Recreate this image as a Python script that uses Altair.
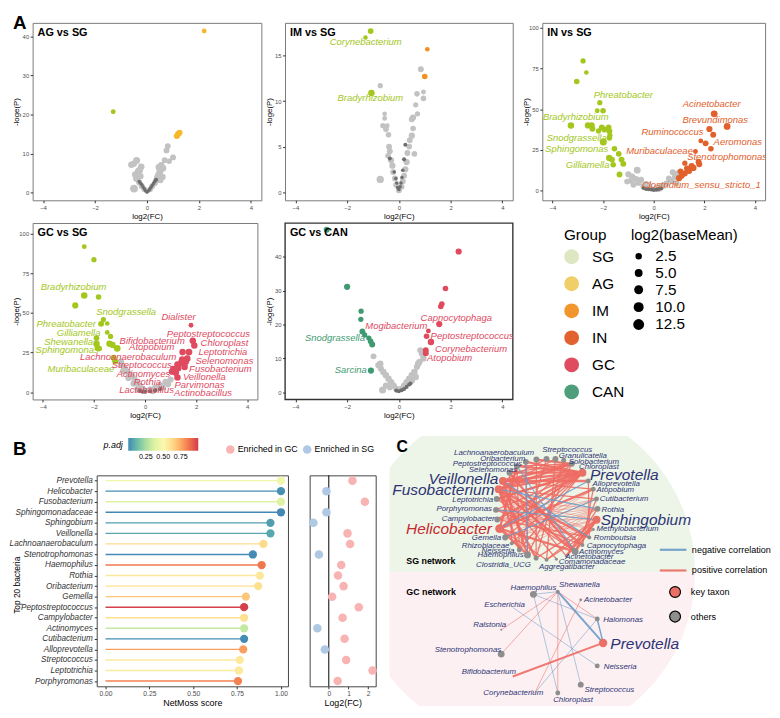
import altair as alt
import pandas as pd

FONT = "Liberation Sans"

# ---------------- Panel A : volcano plots ----------------
GROUPS = ["SG", "AG", "IM", "IN", "GC", "CAN"]
POINT_COLORS = ["#a3c71c", "#f6b82c", "#f39020", "#e1602b", "#e04a5f", "#3f9a72"]
LEGEND_COLORS = ["#dde7c1", "#f1cf68", "#f3952f", "#e2622f", "#df4c60", "#4e9e7b"]
NS_COLORS = ["#c2c2c2", "#6e6e6e"]
SIZE_LEGEND_VALUES = [2.5, 5.0, 7.5, 10.0, 12.5]

# (log2FC, -loge(P), log2(baseMean), group)
AG_POINTS = [
    (0.80, 11.9, 1.5, "ns"), (0.75, 10.8, 1.5, "ns"), (1.00, 9.0, 1.5, "ns"), (0.68, 8.3, 1.5, "ns"),
    (0.85, 8.0, 1.0, "ns"), (0.55, 7.0, 2.5, "ns"), (0.62, 6.2, 2.5, "ns"), (0.50, 5.5, 3.5, "ns"),
    (0.45, 4.6, 3.0, "ns"), (0.60, 4.0, 2.0, "ns"), (0.40, 3.8, 3.0, "ns"), (0.35, 3.0, 2.0, "ns"),
    (0.30, 2.4, 1.5, "ns"), (0.20, 1.6, 1.5, "ns"), (0.12, 0.8, 1.0, "ns"), (-0.10, 0.8, 1.0, "ns"),
    (-0.20, 1.6, 1.5, "ns"), (-0.30, 2.6, 2.0, "ns"), (-0.40, 3.6, 3.5, "ns"), (-0.45, 4.6, 3.0, "ns"),
    (-0.35, 5.4, 2.0, "ns"), (-0.40, 8.2, 3.5, "ns"), (-0.22, 6.6, 2.5, "ns"), (-0.60, 7.1, 2.5, "ns"),
    (-0.50, 7.4, 2.0, "ns"), (-0.29, 5.7, 3.5, "ns"), (-0.50, 1.0, 5.0, "ns"), (0.45, 6.5, 2.0, "ns"),
    (0.52, 3.2, 2.0, "ns"), (-0.25, 4.2, 2.0, "ns"),
    (0.00, 0.1, -1.5, "nsd"), (0.05, 0.4, -1.5, "nsd"), (-0.05, 0.4, -1.5, "nsd"), (0.10, 0.8, -1.5, "nsd"),
    (-0.10, 0.9, -1.5, "nsd"), (0.15, 1.3, -1.5, "nsd"), (-0.15, 1.4, -1.5, "nsd"), (0.20, 1.8, -1.5, "nsd"),
    (-0.20, 2.0, -1.5, "nsd"), (0.25, 2.3, -1.5, "nsd"), (-0.25, 2.4, -1.5, "nsd"), (0.30, 2.8, -1.5, "nsd"),
    (0.35, 3.3, -1.0, "nsd"), (-0.30, 2.8, -1.5, "nsd"),
    (2.20, 41.4, 0.0, "AG"), (1.15, 14.5, 1.8, "AG"), (1.20, 15.0, 1.8, "AG"), (1.25, 15.3, 1.8, "AG"),
    (-1.30, 20.7, 0.0, "SG"),
]
AG_LABELS = []

IM_POINTS = [
    (0.85, 13.5, 1.5, "ns"), (0.95, 11.0, 0.0, "ns"), (0.95, 10.3, 1.0, "ns"), (0.70, 10.8, 1.0, "ns"),
    (-0.72, 11.7, 0.5, "ns"), (0.65, 9.6, 0.5, "ns"), (0.55, 8.2, 2.0, "ns"), (0.72, 8.6, 0.5, "ns"),
    (0.50, 8.0, 1.5, "ns"), (-0.55, 8.6, -0.3, "ns"), (-0.55, 8.1, 0.0, "ns"), (-0.62, 7.3, 0.5, "ns"),
    (-0.45, 7.3, 0.0, "ns"), (-0.50, 6.9, 1.0, "ns"), (-0.40, 6.3, 1.0, "ns"), (0.50, 6.2, 2.0, "ns"),
    (0.55, 7.0, 1.0, "ns"), (0.42, 5.7, 1.5, "ns"), (0.40, 5.0, 1.0, "ns"), (-0.38, 5.0, 1.5, "ns"),
    (-0.35, 4.5, 1.5, "ns"), (0.33, 4.3, 1.5, "ns"), (-0.30, 3.5, 2.0, "ns"), (0.30, 3.3, 2.0, "ns"),
    (-0.25, 2.9, 2.0, "ns"), (0.25, 2.5, 2.0, "ns"), (-0.22, 2.2, 1.5, "ns"), (0.20, 1.8, 1.5, "ns"),
    (-0.15, 1.5, 1.5, "ns"), (0.15, 1.2, 1.5, "ns"), (-0.10, 0.8, 1.5, "ns"), (0.10, 0.6, 1.5, "ns"),
    (0.00, 0.2, 1.5, "ns"), (-0.72, 1.4, 4.0, "ns"), (0.60, 4.2, 1.0, "ns"), (-0.42, 4.0, 1.0, "ns"),
    (0.25, 5.2, -1.0, "nsd"), (-0.35, 3.7, -1.0, "nsd"), (0.20, 3.6, -1.0, "nsd"), (0.15, 2.4, -1.5, "nsd"),
    (-0.12, 1.5, -1.5, "nsd"), (0.00, 0.3, -1.5, "nsd"), (0.05, 0.6, -1.5, "nsd"), (-0.05, 0.5, -1.5, "nsd"),
    (0.08, 1.0, -1.5, "nsd"), (-0.08, 1.0, -1.5, "nsd"), (0.12, 1.6, -1.5, "nsd"), (-0.18, 2.2, -1.5, "nsd"),
    (-1.09, 17.7, 1.2, "SG"), (-1.29, 17.0, -0.5, "SG"), (-1.06, 10.9, 2.5, "SG"),
    (1.10, 15.7, -0.3, "IM"), (1.00, 12.7, 1.0, "IM"),
]
IM_LABELS = [("Corynebacterium", -1.28, 16.5, "SG"), ("Bradyrhizobium", -1.10, 10.35, "SG")]

IN_POINTS = [
    (-0.65, 12.5, 3.0, "ns"), (-1.00, 10.0, 2.0, "ns"), (-0.85, 8.5, 2.0, "ns"), (-0.70, 7.0, 2.0, "ns"),
    (-0.50, 6.5, 2.0, "ns"), (-0.30, 4.0, 1.5, "ns"), (-0.90, 6.0, 1.5, "ns"), (-1.05, 5.5, 1.5, "ns"),
    (-0.60, 4.8, 2.0, "ns"), (-0.40, 2.5, 2.0, "ns"), (-0.15, 1.5, 1.5, "ns"), (0.10, 1.8, 1.5, "ns"),
    (0.30, 2.8, 2.0, "ns"), (0.50, 4.2, 2.0, "ns"), (0.70, 6.0, 2.0, "ns"), (0.85, 8.5, 2.5, "ns"),
    (0.95, 10.5, 2.0, "ns"), (0.75, 11.2, 1.5, "ns"), (0.60, 7.5, 1.5, "ns"), (0.90, 4.5, 1.5, "ns"),
    (0.40, 3.0, 1.5, "ns"), (-0.20, 3.5, 1.5, "ns"), (0.20, 1.0, 1.5, "ns"), (-0.80, 3.5, 1.5, "ns"),
    (-0.30, 1.0, -1.0, "nsd"), (-0.10, 0.6, -1.0, "nsd"), (0.00, 0.3, -1.0, "nsd"), (0.10, 0.5, -1.0, "nsd"),
    (0.20, 0.9, -1.0, "nsd"), (-0.20, 0.8, -1.0, "nsd"), (0.30, 1.2, -1.0, "nsd"), (-0.40, 1.5, -1.0, "nsd"),
    (-2.79, 79.6, 0.5, "SG"), (-2.66, 72.5, -0.3, "SG"), (-3.04, 67.0, 1.0, "SG"), (-2.13, 54.0, 0.5, "SG"),
    (-2.23, 49.0, 0.0, "SG"), (-2.00, 49.0, 1.0, "SG"), (-3.27, 40.0, 2.5, "SG"), (-2.60, 40.0, 2.0, "SG"),
    (-2.45, 40.0, 2.0, "SG"), (-2.42, 38.0, 1.5, "SG"), (-2.05, 38.8, 1.5, "SG"), (-1.95, 37.5, 1.5, "SG"),
    (-1.78, 38.8, 1.0, "SG"), (-2.18, 36.6, 0.5, "SG"), (-1.75, 36.4, 1.5, "SG"), (-1.73, 33.9, 0.5, "SG"),
    (-1.75, 32.3, 1.0, "SG"), (-1.99, 29.8, 3.5, "SG"), (-1.55, 25.7, 1.0, "SG"), (-1.38, 22.5, 1.0, "SG"),
    (-1.76, 20.0, 2.0, "SG"), (-1.65, 19.0, 1.5, "SG"), (-1.27, 19.0, 1.5, "SG"), (-1.20, 16.4, 1.5, "SG"),
    (-1.60, 15.8, 1.0, "SG"), (-1.35, 9.9, 1.5, "SG"),
    (2.39, 47.1, 3.0, "IN"), (2.90, 39.4, 3.0, "IN"), (2.20, 37.8, 2.0, "IN"), (2.35, 34.3, 1.5, "IN"),
    (1.86, 30.5, 0.0, "IN"), (2.05, 29.0, 1.5, "IN"), (2.26, 25.7, 1.0, "IN"), (1.65, 24.0, 0.0, "IN"),
    (1.23, 16.8, 0.5, "IN"), (1.77, 17.7, 1.5, "IN"), (1.50, 15.0, 2.0, "IN"), (1.31, 13.5, 1.5, "IN"),
    (1.57, 13.9, 2.0, "IN"), (1.06, 11.8, 1.5, "IN"), (1.12, 9.8, 2.0, "IN"), (1.00, 7.6, 2.0, "IN"),
    (1.23, 10.5, 1.5, "IN"), (1.40, 12.0, 1.5, "IN"), (1.80, 16.2, 1.5, "IN"), (1.10, 8.8, 1.0, "IN"),
]
IN_LABELS = [
    ("Phreatobacter", -1.20, 58.4, "SG"), ("Bradyrhizobium", -3.08, 45.0, "SG"),
    ("Snodgrassella", -3.04, 32.5, "SG"), ("Sphingomonas", -3.04, 25.4, "SG"),
    ("Gilliamella", -2.61, 15.8, "SG"), ("Acinetobacter", 2.29, 53.1, "IN"),
    ("Brevundimonas", 2.43, 43.4, "IN"), ("Ruminococcus", 0.74, 35.8, "IN"),
    ("Aeromonas", 3.32, 29.7, "IN"), ("Muribaculaceae", 0.23, 24.4, "IN"),
    ("Stenotrophomonas", 2.90, 20.4, "IN"), ("Clostridium_sensu_stricto_1", 1.88, 3.2, "IN"),
]

GCSG_POINTS = [
    (-0.95, 19.0, 3.0, "ns"), (-0.90, 17.0, 2.5, "ns"), (-0.80, 15.0, 2.5, "ns"), (-0.70, 13.0, 2.0, "ns"),
    (-0.60, 11.5, 2.5, "ns"), (-0.50, 10.0, 2.0, "ns"), (-0.40, 8.0, 2.0, "ns"), (-0.30, 6.0, 2.0, "ns"),
    (-0.20, 4.0, 2.0, "ns"), (-0.10, 2.0, 2.0, "ns"), (0.00, 1.0, 2.0, "ns"), (0.20, 1.8, 2.0, "ns"),
    (0.40, 3.0, 2.0, "ns"), (0.60, 4.5, 2.0, "ns"), (0.80, 6.5, 2.0, "ns"), (1.00, 8.0, 2.0, "ns"),
    (-0.85, 13.5, 2.0, "ns"), (-0.65, 9.0, 2.0, "ns"), (0.50, 2.5, 2.0, "ns"), (0.90, 5.0, 2.0, "ns"),
    (-0.45, 5.5, 2.0, "ns"), (0.30, 0.8, 2.0, "ns"), (0.70, 3.0, 1.5, "ns"), (-0.30, 2.0, 2.0, "ns"),
    (0.00, 0.3, -1.0, "nsd"), (0.20, 0.6, -1.0, "nsd"), (0.40, 1.2, -1.0, "nsd"), (-0.10, 0.4, -1.0, "nsd"),
    (0.60, 2.0, -1.0, "nsd"), (-0.20, 0.8, -1.0, "nsd"),
    (-2.38, 91.7, 0.0, "SG"), (-2.00, 83.5, 0.5, "SG"), (-2.38, 60.9, 2.5, "SG"), (-1.82, 60.0, 1.0, "SG"),
    (-2.73, 54.7, 2.0, "SG"), (-1.63, 45.8, 0.5, "SG"), (-1.72, 43.1, 1.5, "SG"), (-1.48, 43.3, -0.3, "SG"),
    (-1.48, 37.7, 0.0, "SG"), (-1.35, 35.2, 0.5, "SG"), (-1.90, 34.1, 1.0, "SG"), (-1.90, 30.6, 2.5, "SG"),
    (-1.86, 28.1, 1.5, "SG"), (-1.79, 27.5, 1.0, "SG"), (-1.39, 30.6, 2.5, "SG"), (-1.27, 29.8, 2.0, "SG"),
    (-1.09, 27.7, 3.0, "SG"), (-1.23, 21.7, 2.0, "SG"), (-1.17, 19.6, 1.5, "SG"),
    (1.80, 42.2, 0.0, "GC"), (1.87, 32.5, 2.5, "GC"), (1.93, 29.4, 2.5, "GC"), (1.47, 25.3, 2.5, "GC"),
    (1.72, 25.3, 3.0, "GC"), (1.65, 21.2, 3.0, "GC"), (1.45, 20.8, 2.0, "GC"), (1.27, 17.5, 2.5, "GC"),
    (1.11, 14.6, 2.5, "GC"), (1.20, 12.5, 3.0, "GC"), (1.30, 15.2, 2.5, "GC"), (1.55, 16.0, 2.5, "GC"),
    (1.27, 9.3, 2.5, "GC"), (1.05, 13.0, 2.0, "GC"), (1.40, 18.5, 2.0, "GC"), (1.60, 19.0, 2.0, "GC"),
]
GCSG_LABELS = [
    ("Bradyrhizobium", -2.80, 66.3, "SG"), ("Snodgrassella", -0.74, 50.3, "SG"),
    ("Phreatobacter", -3.09, 42.9, "SG"), ("Gilliamella", -2.60, 37.3, "SG"),
    ("Shewanella", -2.99, 31.7, "SG"), ("Sphingomonas", -3.05, 26.7, "SG"),
    ("Muribaculaceae", -2.51, 14.5, "SG"), ("Dialister", 1.31, 47.4, "GC"),
    ("Peptostreptococcus", 2.48, 36.7, "GC"), ("Bifidobacterium", 0.28, 32.5, "GC"),
    ("Chloroplast", 3.11, 31.3, "GC"), ("Atopobium", 0.26, 28.4, "GC"),
    ("Leptotrichia", 3.05, 25.5, "GC"), ("Lachnoanaerobaculum", -0.66, 22.2, "GC"),
    ("Selenomonas", 3.11, 19.5, "GC"), ("Streptococcus", -0.13, 17.0, "GC"),
    ("Fusobacterium", 2.95, 14.5, "GC"), ("Actinomyces", -0.06, 11.4, "GC"),
    ("Veillonella", 2.32, 9.7, "GC"), ("Rothia", 0.09, 6.6, "GC"),
    ("Parvimonas", 2.13, 4.8, "GC"), ("Lactobacillus", 0.06, 1.7, "GC"),
    ("Actinobacillus", 2.27, -0.6, "GC"),
]

GCCAN_POINTS = [
    (-0.98, 10.6, 1.5, "ns"), (-0.72, 8.4, 2.5, "ns"), (-0.80, 8.0, 1.5, "ns"), (-0.70, 7.0, 2.0, "ns"),
    (-0.60, 6.0, 2.5, "ns"), (-0.50, 5.0, 2.5, "ns"), (-0.40, 4.0, 2.5, "ns"), (-0.30, 3.0, 2.5, "ns"),
    (-0.20, 2.0, 2.0, "ns"), (-0.10, 1.0, 2.0, "ns"), (0.10, 1.0, 2.0, "ns"), (0.20, 2.0, 2.0, "ns"),
    (0.30, 3.0, 2.5, "ns"), (0.40, 4.0, 2.5, "ns"), (0.50, 5.0, 2.5, "ns"), (0.60, 6.0, 2.5, "ns"),
    (0.70, 7.5, 2.0, "ns"), (0.80, 9.0, 2.0, "ns"), (0.83, 12.4, 2.0, "ns"), (0.89, 11.4, 2.0, "ns"),
    (0.95, 10.0, 2.0, "ns"), (0.75, 8.5, 2.5, "ns"), (-0.63, 0.7, 3.5, "ns"), (0.50, 3.5, 2.5, "ns"),
    (-0.50, 2.0, 2.0, "ns"), (0.65, 4.5, 2.5, "ns"), (-0.35, 1.5, 2.0, "ns"),
    (0.00, 0.3, -1.0, "nsd"), (0.10, 0.6, -1.0, "nsd"), (-0.10, 0.5, -1.0, "nsd"), (0.20, 1.0, -1.0, "nsd"),
    (0.30, 1.6, -1.0, "nsd"), (0.40, 2.3, -1.0, "nsd"), (0.45, 2.6, -1.0, "nsd"),
    (-2.79, 47.9, 1.5, "CAN"), (-2.00, 31.1, 2.0, "CAN"), (-1.46, 23.9, 0.5, "CAN"), (-1.47, 21.5, 0.5, "CAN"),
    (-1.41, 17.9, 1.5, "CAN"), (-1.32, 16.9, 0.5, "CAN"), (-1.16, 16.0, 0.5, "CAN"), (-1.09, 15.0, 1.0, "CAN"),
    (-1.03, 14.1, 1.5, "CAN"), (-1.08, 6.4, 2.0, "CAN"),
    (2.31, 41.5, 2.0, "GC"), (1.80, 30.6, 1.0, "GC"), (1.66, 26.0, 1.0, "GC"), (1.62, 25.3, 1.0, "GC"),
    (1.56, 20.1, 2.0, "GC"), (1.14, 18.1, 0.0, "GC"), (1.07, 16.5, 1.0, "GC"), (1.24, 14.8, 2.5, "GC"),
    (1.04, 12.4, 1.5, "GC"), (1.04, 11.5, 1.5, "GC"),
]
GCCAN_LABELS = [
    ("Capnocytophaga", 2.22, 22.0, "GC"), ("Mogibacterium", -0.10, 19.5, "GC"),
    ("Peptostreptococcus", 2.83, 16.6, "GC"), ("Snodgrassella", -2.47, 16.1, "CAN"),
    ("Corynebacterium", 2.79, 12.8, "GC"), ("Atopobium", 1.96, 10.1, "GC"),
    ("Sarcina", -1.86, 6.5, "CAN"),
]

# ---------------- Panel B : NetMoss lollipop ----------------
TAXA = ["Prevotella", "Helicobacter", "Fusobacterium", "Sphingomonadaceae", "Sphingobium",
        "Veillonella", "Lachnoanaerobaculum", "Stenotrophomonas", "Haemophilus", "Rothia",
        "Oribacterium", "Gemella", "Peptostreptococcus", "Campylobacter", "Actinomyces",
        "Cutibacterium", "Alloprevotella", "Streptococcus", "Leptotrichia", "Porphyromonas"]
NETMOSS = [1.00, 1.00, 1.00, 1.00, 0.94, 0.94, 0.90, 0.84, 0.89, 0.88,
           0.87, 0.80, 0.79, 0.79, 0.79, 0.79, 0.785, 0.765, 0.76, 0.755]
PADJ = [0.45, 0.02, 0.37, 0.00, 0.05, 0.07, 0.63, 0.01, 0.86, 0.58,
        0.61, 0.68, 0.99, 0.61, 0.31, 0.01, 0.78, 0.57, 0.57, 0.84]
LFC = [1.20, -0.12, 1.83, -0.12, -0.78, 0.95, 1.08, -0.50, 0.63, 0.47,
       0.75, 0.17, 1.52, 0.70, -0.58, 0.80, -0.20, 0.88, 2.22, 0.45]
ENRICHED = ["GC", "SG", "GC", "SG", "SG", "GC", "GC", "SG", "GC", "GC",
            "GC", "GC", "GC", "GC", "SG", "GC", "SG", "GC", "GC", "GC"]
PADJ_LEGEND_VALUES = [0.25, 0.5, 0.75]

# ---------------- Panel C : networks ----------------
SG_NODES = ["Prevotella", "Alloprevotella", "Atopobium", "Cutibacterium", "Rothia", "Sphingobium",
            "Methylobacterium", "Romboutsia", "Capnocytophaga", "Actinomyces", "Acinetobacter",
            "Comamonadaceae", "Aggregatibacter", "Clostridia_UCG", "Haemophilus", "Neisseria",
            "Rhizobiaceae", "Gemella", "Helicobacter", "Campylobacter", "Porphyromonas",
            "Leptotrichia", "Fusobacterium", "Veillonella", "Selenomonas", "Peptostreptococcus",
            "Oribacterium", "Lachnoanaerobaculum", "Streptococcus", "Granulicatella",
            "Solobacterium", "Chloroplast"]
SG_X = [585.7, 591.7, 596.7, 600.0, 601.0, 600.0, 596.7, 592.7, 585.7, 578.3, 569.3, 559.3,
        549.3, 538.7, 530.0, 521.7, 514.0, 507.3, 501.7, 499.3, 498.0, 498.7, 500.7, 505.0,
        511.7, 519.3, 528.3, 539.0, 549.3, 558.3, 566.7, 575.0]
SG_Y = [473.3, 481.7, 490.0, 500.0, 510.0, 521.0, 531.0, 539.0, 546.7, 553.3, 557.7, 561.0,
        561.7, 560.0, 556.7, 551.7, 545.0, 539.0, 530.0, 520.7, 511.0, 500.0, 490.0, 481.7,
        473.3, 466.7, 462.3, 460.0, 459.3, 459.3, 460.7, 464.3]
SG_DIAM = [8, 5, 5, 5, 6, 8, 3, 4, 4, 7, 3, 3, 4, 5, 7, 5, 4, 6, 9, 6, 6, 6, 8, 8,
           6, 6, 6, 6, 6, 6, 5, 6]
SG_KEY = ["Prevotella", "Sphingobium", "Helicobacter", "Fusobacterium", "Veillonella"]
SG_EDGES = [
    (23, 0, 2.4, "pos"), (22, 0, 2.4, "pos"), (18, 14, 2.4, "pos"), (22, 9, 2.4, "pos"),
    (23, 8, 2.4, "pos"), (5, 9, 2.4, "pos"), (22, 31, 2.4, "pos"), (23, 31, 2.4, "pos"),
    (18, 25, 2.4, "pos"), (22, 15, 2.4, "pos"), (18, 9, 2.4, "pos"), (23, 1, 2.4, "pos"),
    (25, 0, 2.4, "pos"), (24, 0, 2.4, "pos"), (22, 7, 2.4, "pos"), (5, 10, 2.4, "pos"),
    (0, 21, 2.4, "pos"), (0, 19, 2.4, "pos"), (23, 14, 2.4, "pos"), (22, 13, 2.4, "pos"),
    (26, 0, 2.4, "pos"), (27, 31, 2.4, "pos"), (18, 2, 2.4, "pos"), (24, 9, 2.4, "pos"),
    (18, 0, 2.4, "pos"),
    (21, 0, 1.3, "pos"), (20, 0, 1.3, "pos"), (25, 31, 1.3, "pos"), (24, 31, 1.3, "pos"),
    (22, 29, 1.3, "pos"), (23, 28, 1.3, "pos"), (22, 11, 1.3, "pos"), (23, 10, 1.3, "pos"),
    (18, 12, 1.3, "pos"), (26, 14, 1.3, "pos"), (27, 13, 1.3, "pos"), (25, 15, 1.3, "pos"),
    (24, 16, 1.3, "pos"), (21, 9, 1.3, "pos"), (20, 8, 1.3, "pos"), (19, 7, 1.3, "pos"),
    (5, 12, 1.3, "pos"), (5, 13, 1.3, "pos"), (6, 12, 1.3, "pos"), (4, 10, 1.3, "pos"),
    (3, 9, 1.3, "pos"), (2, 8, 1.3, "pos"), (1, 7, 1.3, "pos"), (0, 15, 1.3, "pos"),
    (0, 16, 1.3, "pos"), (31, 14, 1.3, "pos"), (30, 13, 1.3, "pos"), (29, 12, 1.3, "pos"),
    (28, 15, 1.3, "pos"), (22, 3, 1.3, "pos"), (23, 2, 1.3, "pos"), (18, 31, 1.3, "pos"),
    (17, 0, 1.3, "pos"),
    (5, 20, 0.5, "pos"), (5, 21, 0.5, "pos"), (5, 19, 0.5, "pos"), (5, 17, 0.5, "pos"),
    (5, 16, 0.5, "pos"), (4, 20, 0.5, "pos"), (4, 21, 0.5, "pos"), (4, 19, 0.5, "pos"),
    (4, 18, 0.5, "pos"), (4, 17, 0.5, "pos"), (4, 16, 0.5, "pos"), (4, 15, 0.5, "pos"),
    (4, 14, 0.5, "pos"), (6, 20, 0.5, "pos"), (6, 21, 0.5, "pos"), (7, 21, 0.5, "pos"),
    (7, 20, 0.5, "pos"), (3, 19, 0.5, "pos"), (3, 18, 0.5, "pos"), (3, 17, 0.5, "pos"),
    (2, 17, 0.5, "pos"), (2, 16, 0.5, "pos"), (8, 22, 0.5, "pos"), (9, 23, 0.5, "pos"),
    (22, 4, 1.1, "neg"), (23, 7, 1.1, "neg"), (18, 1, 1.1, "neg"), (17, 3, 1.1, "neg"),
    (26, 14, 1.1, "neg"), (20, 5, 1.1, "neg"), (25, 9, 1.1, "neg"),
]
# (label, x, y, align, font size, colour)
SG_LABELS = [
    ("Lachnoanaerobaculum", 536.7, 453.3, "right", 8, "#2d3473"),
    ("Oribacterium", 527.7, 459.3, "right", 8, "#2d3473"),
    ("Peptostreptococcus", 524.3, 464.3, "right", 8, "#2d3473"),
    ("Selenomonas", 519.3, 471.0, "right", 8, "#2d3473"),
    ("Veillonella", 500.5, 479.3, "right", 15.7, "#2d3473"),
    ("Fusobacterium", 496.5, 490.7, "right", 15.7, "#2d3473"),
    ("Leptotrichia", 495.0, 501.0, "right", 8, "#2d3473"),
    ("Porphyromonas", 494.0, 510.3, "right", 8, "#2d3473"),
    ("Campylobacter", 496.7, 520.0, "right", 8, "#2d3473"),
    ("Helicobacter", 494.0, 530.0, "right", 15.7, "#c62a2f"),
    ("Gemella", 503.3, 540.0, "right", 8, "#2d3473"),
    ("Rhizobiaceae", 511.7, 547.3, "right", 8, "#2d3473"),
    ("Neisseria", 516.7, 552.3, "right", 8, "#2d3473"),
    ("Haemophilus", 526.0, 557.3, "right", 8, "#2d3473"),
    ("Clostridia_UCG", 533.3, 566.7, "right", 8, "#2d3473"),
    ("Aggregatibacter", 541.7, 569.0, "left", 8, "#2d3473"),
    ("Comamonadaceae", 561.7, 564.0, "left", 8, "#2d3473"),
    ("Acinetobacter", 568.3, 559.0, "left", 8, "#2d3473"),
    ("Actinomyces", 582.3, 553.3, "left", 8, "#2d3473"),
    ("Capnocytophaga", 590.0, 547.3, "left", 8, "#2d3473"),
    ("Romboutsia", 597.3, 539.3, "left", 8, "#2d3473"),
    ("Methylobacterium", 600.0, 530.7, "left", 8, "#2d3473"),
    ("Sphingobium", 604.3, 521.0, "left", 15.7, "#2d3473"),
    ("Rothia", 605.0, 510.7, "left", 8, "#2d3473"),
    ("Cutibacterium", 603.3, 500.0, "left", 8, "#2d3473"),
    ("Atopobium", 600.0, 491.0, "left", 8, "#2d3473"),
    ("Alloprevotella", 596.0, 484.3, "left", 8, "#2d3473"),
    ("Prevotella", 593.3, 475.7, "left", 15.7, "#2d3473"),
    ("Chloroplast", 582.3, 467.7, "left", 8, "#2d3473"),
    ("Solobacterium", 571.7, 462.3, "left", 8, "#2d3473"),
    ("Granulicatella", 561.7, 456.0, "left", 8, "#2d3473"),
    ("Streptococcus", 545.0, 450.0, "left", 8, "#2d3473"),
]

GC_NODES = ["Haemophilus", "Shewanella", "Acinetobacter", "Halomonas", "Prevotella", "Neisseria",
            "Streptococcus", "Chloroplast", "Corynebacterium", "Bifidobacterium",
            "Stenotrophomonas", "Ralstonia", "Escherichia"]
GC_X = [536.0, 560.7, 584.0, 600.7, 606.7, 600.7, 584.0, 560.7, 537.3, 515.0, 503.3, 503.3, 515.0]
GC_Y = [596.7, 594.0, 602.3, 621.7, 646.0, 669.3, 688.3, 696.7, 696.7, 680.0, 657.3, 632.7, 610.0]
GC_DIAM = [7, 4, 3, 5, 8.5, 5, 6, 5, 0, 0, 7, 2, 0]
GC_KEY = ["Prevotella"]
GC_EDGES = [
    (0, 3, 0.6, "neg"), (0, 1, 0.6, "neg"), (0, 7, 0.6, "neg"), (12, 5, 0.6, "neg"),
    (1, 6, 0.6, "neg"), (3, 8, 0.6, "neg"),
    (1, 3, 0.6, "pos"), (1, 7, 0.6, "pos"), (1, 11, 0.6, "pos"), (1, 10, 0.6, "pos"),
    (2, 8, 0.6, "pos"),
    (3, 4, 1.5, "neg"), (1, 4, 2.0, "neg"), (9, 4, 2.0, "pos"),
]
GC_LABELS = [
    ("Haemophilus", 536.0, 590.3, "center", 8, "#2d3473"),
    ("Shewanella", 562.0, 587.3, "left", 8, "#2d3473"),
    ("Acinetobacter", 587.3, 602.7, "left", 8, "#2d3473"),
    ("Halomonas", 606.7, 622.3, "left", 8, "#2d3473"),
    ("Prevotella", 614.0, 646.7, "left", 15.7, "#2d3473"),
    ("Neisseria", 607.3, 670.7, "left", 8, "#2d3473"),
    ("Streptococcus", 587.7, 693.3, "left", 8, "#2d3473"),
    ("Chloroplast", 556.0, 704.0, "left", 8, "#2d3473"),
    ("Corynebacterium", 546.0, 697.3, "right", 8, "#2d3473"),
    ("Bifidobacterium", 518.3, 675.0, "right", 8, "#2d3473"),
    ("Stenotrophomonas", 503.3, 652.7, "right", 8, "#2d3473"),
    ("Ralstonia", 508.3, 628.3, "right", 8, "#2d3473"),
    ("Escherichia", 527.3, 607.3, "right", 8, "#2d3473"),
]
PANEL_TEXT = [("C", 397.0, 447.5, 16), ("SG network", 407.0, 563.3, 9), ("GC network", 407.0, 594.0, 9)]

# ======================================================================
SIZE_SCALE = alt.Scale(domain=[-2.0, 12.5], range=[9, 121], zero=False)
INDEPENDENT = dict(color="independent", size="independent", fill="independent",
                   stroke="independent")


def volcano(points, labels, title, ydom, yticks, width, height,
            stroke="#7a7a7a", sw=1.0, corner=None, legends=False):
    rank = {"ns": 0, "nsd": 1}
    pdf = pd.DataFrame(points, columns=["fc", "p", "bm", "grp"])
    pdf["o"] = [rank.get(g, 2) for g in pdf["grp"]]
    xs = alt.Scale(domain=[-4.4, 4.4], nice=False, zero=False)
    ys = alt.Scale(domain=ydom, nice=False, zero=False)
    xenc = alt.X("fc:Q", scale=xs, axis=alt.Axis(values=[-4, -2, 0, 2, 4], title="log2(FC)"))
    yenc = alt.Y("p:Q", scale=ys, axis=alt.Axis(values=yticks, title="-loge(P)",
                                                titleX=-12, titleBaseline="bottom"))
    col = alt.Color("grp:N", scale=alt.Scale(domain=GROUPS + ["ns", "nsd"],
                                             range=POINT_COLORS + NS_COLORS), legend=None)
    layers = [alt.Chart(pdf).mark_circle(opacity=1, clip=True).encode(
        x=xenc, y=yenc, color=col,
        size=alt.Size("bm:Q", scale=SIZE_SCALE, legend=None),
        order=alt.Order("o:Q"))]
    if labels:
        ldf = pd.DataFrame(labels, columns=["name", "fc", "p", "grp"])
        layers.append(alt.Chart(ldf).mark_text(fontStyle="italic", fontSize=9.6, clip=True,
                                               baseline="middle").encode(
            x=xenc, y=yenc, text="name:N", color=col))
    layers.append(alt.Chart(pd.DataFrame({"t": [title]})).mark_text(
        align="left", baseline="alphabetic", fontWeight="bold", fontSize=11, color="black").encode(
        x=alt.value(5), y=alt.value(13), text="t:N"))
    if corner:
        layers.append(alt.Chart(pd.DataFrame({"t": [corner]})).mark_text(
            align="left", baseline="top", fontWeight="bold", fontSize=19, color="black").encode(
            x=alt.value(-20), y=alt.value(-9), text="t:N"))
    if legends:
        gdf = pd.DataFrame({"Group": GROUPS, "fc": [9.0] * 6, "p": [0.0] * 6})
        layers.append(alt.Chart(gdf).mark_circle(opacity=1, clip=True).encode(
            x=xenc, y=yenc,
            color=alt.Color("Group:N", sort=GROUPS,
                            scale=alt.Scale(domain=GROUPS, range=LEGEND_COLORS),
                            legend=alt.Legend(orient="none", legendX=283, legendY=5, title="Group",
                                              titleFontSize=15.5, titleFontWeight="normal",
                                              labelFontSize=15.5, symbolSize=225, rowPadding=10.4,
                                              titlePadding=6, labelOffset=13,
                                              symbolStrokeWidth=0))))
        sdf = pd.DataFrame({"lbm": SIZE_LEGEND_VALUES, "fc": [9.0] * 5, "p": [0.0] * 5})
        layers.append(alt.Chart(sdf).mark_circle(opacity=1, clip=True, color="black").encode(
            x=xenc, y=yenc,
            size=alt.Size("lbm:Q", scale=SIZE_SCALE,
                          legend=alt.Legend(orient="none", legendX=351, legendY=5,
                                            title="log2(baseMean)", values=SIZE_LEGEND_VALUES,
                                            format=".1f", titleFontSize=15,
                                            titleFontWeight="normal", labelFontSize=15.5,
                                            rowPadding=-0.4, titlePadding=6, labelOffset=9,
                                            symbolFillColor="black",
                                            symbolStrokeColor="black"))))
    ch = alt.layer(*layers).properties(width=width, height=height,
                                       view=alt.ViewBackground(stroke=stroke, strokeWidth=sw))
    if legends:
        ch = ch.resolve_scale(color="independent", size="independent")
    return ch


def spacer(w, h=1):
    return alt.Chart(pd.DataFrame({"v": [0.0]})).mark_point(opacity=0).encode(
        x=alt.X("v:Q", axis=None), y=alt.Y("v:Q", axis=None)).properties(
        width=w, height=h, view=alt.ViewBackground(stroke=None))


def row(*charts):
    return alt.hconcat(*charts, spacing=0, bounds="flush").resolve_scale(**INDEPENDENT)


ag = volcano(AG_POINTS, AG_LABELS, "AG vs SG", [-2.0, 43.5], [0, 10, 20, 30, 40], 232, 180, corner="A")
im = volcano(IM_POINTS, IM_LABELS, "IM vs SG", [-0.9, 18.6], [0, 5, 10, 15], 231, 180)
inn = volcano(IN_POINTS, IN_LABELS, "IN vs SG", [-6.0, 103.0], [0, 25, 50, 75, 100], 226, 180)
gcsg = volcano(GCSG_POINTS, GCSG_LABELS, "GC vs SG", [-4.5, 106.6], [0, 25, 50, 75, 100], 228, 179)
gccan = volcano(GCCAN_POINTS, GCCAN_LABELS, "GC vs CAN", [-2.1, 49.9], [0, 10, 20, 30, 40], 231, 179,
                stroke="#333333", sw=1.4, legends=True)

# ---------------- Panel B ----------------
bdf = pd.DataFrame({"taxon": TAXA, "score": NETMOSS, "padj": PADJ})
bdf["zero"] = 0.0
yb = alt.Y("taxon:N", sort=TAXA, scale=alt.Scale(type="point", padding=0.5),
           axis=alt.Axis(title="Top 20 bacteria", labelFontStyle="italic", labelFontSize=8.3,
                         labelColor="#333333", titleFontSize=8.5, titleX=-76, titleY=111,
                         titleBaseline="bottom", labelOverlap=False, labelPadding=2))
xb_scale = alt.Scale(domain=[-0.05, 1.04], nice=False, zero=False)
xb_axis = alt.Axis(values=[0, 0.25, 0.5, 0.75, 1.0], format=".2f", title="NetMoss score",
                   titleFontSize=9, labelFontSize=6.8)
padj_legend = alt.Legend(type="gradient", orient="none", legendX=7, legendY=-38,
                         direction="horizontal", title="p.adj", titleOrient="left",
                         titleFontStyle="italic", titleFontWeight="normal", titleFontSize=9,
                         titleBaseline="middle", gradientLength=71, gradientThickness=13,
                         values=PADJ_LEGEND_VALUES, format=".2f", labelFontSize=7.2,
                         labelOverlap=False, gradientStrokeWidth=0)
padj_scale = alt.Scale(type="linear", domain=[0, 1], reverse=True,
                       scheme=alt.SchemeParams(name="spectral", extent=[0.1, 0.9]))
# stems and heads get separate (identical) colour scales, so the heads' legend
# only involves a fill scale and is drawn as a continuous colour bar
stems = alt.Chart(bdf).mark_rule(strokeWidth=1.4).encode(
    y=yb, x=alt.X("zero:Q", scale=xb_scale, axis=xb_axis), x2=alt.X2(field="score"),
    color=alt.Color("padj:Q", scale=padj_scale, legend=None))
heads = alt.Chart(bdf).mark_circle(size=70, opacity=1).encode(
    y=yb, x=alt.X("score:Q", scale=xb_scale, axis=xb_axis),
    color=alt.Color("padj:Q", scale=padj_scale, legend=padj_legend))
blabel = alt.Chart(pd.DataFrame({"t": ["B"]})).mark_text(
    align="left", baseline="top", fontWeight="bold", fontSize=19, color="black").encode(
    x=alt.value(-85), y=alt.value(-36), text="t:N")
lolli = alt.layer(stems, heads, blabel).resolve_scale(color="independent").properties(
    width=194, height=214, view=alt.ViewBackground(stroke="#444444", strokeWidth=1))

ddf = pd.DataFrame({"taxon": TAXA, "lfc": LFC, "enr": ["Enriched in " + e for e in ENRICHED]})
xd_scale = alt.Scale(domain=[-0.97, 2.38], nice=False, zero=False)
xd_axis = alt.Axis(values=[0, 1, 2], format="d", title="Log2(FC)", titleFontSize=9,
                   labelFontSize=6.8)
yd = alt.Y("taxon:N", sort=TAXA, scale=alt.Scale(type="point", padding=0.5), axis=None)
zero_line = alt.Chart(pd.DataFrame({"lfc": [0.0]})).mark_rule(color="black", strokeWidth=1).encode(
    x=alt.X("lfc:Q", scale=xd_scale, axis=xd_axis))
fc_dots = alt.Chart(ddf).mark_circle(size=75, opacity=1).encode(
    y=yd, x=alt.X("lfc:Q", scale=xd_scale, axis=xd_axis),
    color=alt.Color("enr:N", scale=alt.Scale(domain=["Enriched in GC", "Enriched in SG"],
                                             range=["#f8b3b3", "#afc8e3"]),
                    legend=alt.Legend(orient="none", legendX=-85, legendY=-31,
                                      direction="horizontal", title=None, labelFontSize=9,
                                      symbolSize=75, labelOffset=3, columnPadding=4,
                                      symbolStrokeWidth=0)))
dots = alt.layer(zero_line, fc_dots).properties(
    width=67, height=214, view=alt.ViewBackground(stroke="#444444", strokeWidth=1))

# ---------------- Panel C ----------------
net_x = alt.Scale(domain=[390, 772], nice=False, zero=False)
net_y = alt.Scale(domain=[436, 710], nice=False, zero=False, reverse=True)


def edge_rows(xs, ys, edges):
    rows = []
    for i, j, w, t in edges:
        rows.append({"xa": xs[i], "ya": ys[i], "xb": xs[j], "yb": ys[j], "w": w,
                     "type": "negative correlation" if t == "neg" else "positive correlation"})
    return rows


edf = pd.DataFrame(edge_rows(SG_X, SG_Y, SG_EDGES) + edge_rows(GC_X, GC_Y, GC_EDGES))
ndf = pd.DataFrame({
    "name": SG_NODES + GC_NODES,
    "x": SG_X + GC_X,
    "y": SG_Y + GC_Y,
    "s": [d * d for d in SG_DIAM + GC_DIAM],
    "role": ["key taxon" if n in SG_KEY else "others" for n in SG_NODES]
            + ["key taxon" if n in GC_KEY else "others" for n in GC_NODES],
})
labdf = pd.DataFrame(SG_LABELS + GC_LABELS, columns=["t", "x", "y", "al", "fs", "col"])

bg = alt.Chart(pd.DataFrame({"cx": [527.0, 527.0], "cy": [574.0, 574.0],
                             "t1": [4.7124, 1.5708], "t2": [7.8540, 4.7124],
                             "fillc": ["#edf5e9", "#fcf0f3"]})).mark_arc(
    radius=173, clip=True).encode(
    x=alt.X("cx:Q", scale=net_x, axis=None), y=alt.Y("cy:Q", scale=net_y, axis=None),
    theta=alt.Theta("t1:Q", scale=None, stack=None), theta2=alt.Theta2(field="t2"),
    fill=alt.Fill("fillc:N", scale=None))
edges = alt.Chart(edf).mark_rule(opacity=0.9).encode(
    x=alt.X("xa:Q", scale=net_x, axis=None), y=alt.Y("ya:Q", scale=net_y, axis=None),
    x2=alt.X2(field="xb"), y2=alt.Y2(field="yb"),
    stroke=alt.Stroke("type:N",
                      scale=alt.Scale(domain=["negative correlation", "positive correlation"],
                                      range=["#6b9bc8", "#ee6b63"]),
                      legend=alt.Legend(orient="none", legendX=272.7, legendY=100.5, title=None,
                                        symbolType="stroke", symbolSize=729,
                                        symbolStrokeWidth=2.2, labelFontSize=9.2,
                                        rowPadding=-7.7, labelOffset=4)),
    strokeWidth=alt.StrokeWidth("w:Q", scale=None))
nodes = alt.Chart(ndf).mark_circle(opacity=1).encode(
    x=alt.X("x:Q", scale=net_x, axis=None), y=alt.Y("y:Q", scale=net_y, axis=None),
    size=alt.Size("s:Q", scale=None),
    fill=alt.Fill("role:N", scale=alt.Scale(domain=["key taxon", "others"],
                                            range=["#ea6f66", "#8e8e8e"]),
                  legend=alt.Legend(orient="none", legendX=283.2, legendY=151.8, title=None,
                                    symbolSize=121, symbolStrokeColor="black",
                                    symbolStrokeWidth=1.2, labelFontSize=9.2, rowPadding=8,
                                    labelOffset=9.5)))


def label_layer(al):
    return alt.Chart(labdf).transform_filter(alt.datum.al == al).mark_text(
        align=al, baseline="middle", fontStyle="italic").encode(
        x=alt.X("x:Q", scale=net_x, axis=None), y=alt.Y("y:Q", scale=net_y, axis=None),
        text="t:N", size=alt.Size("fs:Q", scale=None), color=alt.Color("col:N", scale=None))


ptdf = pd.DataFrame(PANEL_TEXT, columns=["t", "x", "y", "fs"])
ptext = alt.Chart(ptdf).mark_text(align="left", baseline="middle", fontWeight="bold",
                                  color="black").encode(
    x=alt.X("x:Q", scale=net_x, axis=None), y=alt.Y("y:Q", scale=net_y, axis=None),
    text="t:N", size=alt.Size("fs:Q", scale=None))

netc = alt.layer(bg, edges, nodes, label_layer("left"), label_layer("right"),
                 label_layer("center"), ptext).properties(
    width=382, height=274, view=alt.ViewBackground(stroke=None))

# ---------------- layout ----------------
# Rows are nested concatenations; with flush bounds a nested row counts as having no
# extent, so the vertical placement of each row is set purely by the spacing values.
row1 = row(ag, spacer(24), im, spacer(30), inn)
row2 = row(gcsg, spacer(28), gccan)
row3a = row(spacer(362), netc)
row3b = row(spacer(65), lolli, spacer(22), dots)

inner3 = alt.vconcat(row3a, row3b, spacing=40, bounds="flush").resolve_scale(**INDEPENDENT)
inner2 = alt.vconcat(row2, inner3, spacing=216, bounds="flush").resolve_scale(**INDEPENDENT)
chart = alt.vconcat(row1, inner2, spacing=203, bounds="flush").resolve_scale(
    **INDEPENDENT
).properties(padding=0, background="white").configure(font=FONT).configure_axis(
    labelFont=FONT, titleFont=FONT, labelFontSize=6, labelColor="#4d4d4d",
    titleFontSize=8, titleFontWeight="normal", titleColor="black",
    tickSize=2.5, tickColor="#333333", domain=False, grid=False,
    labelPadding=1.5, titlePadding=2
).configure_legend(labelFont=FONT, titleFont=FONT, labelColor="black", titleColor="black"
).configure_text(font=FONT)

chart.save("out.html", embed_options={"renderer": "svg", "actions": False})
